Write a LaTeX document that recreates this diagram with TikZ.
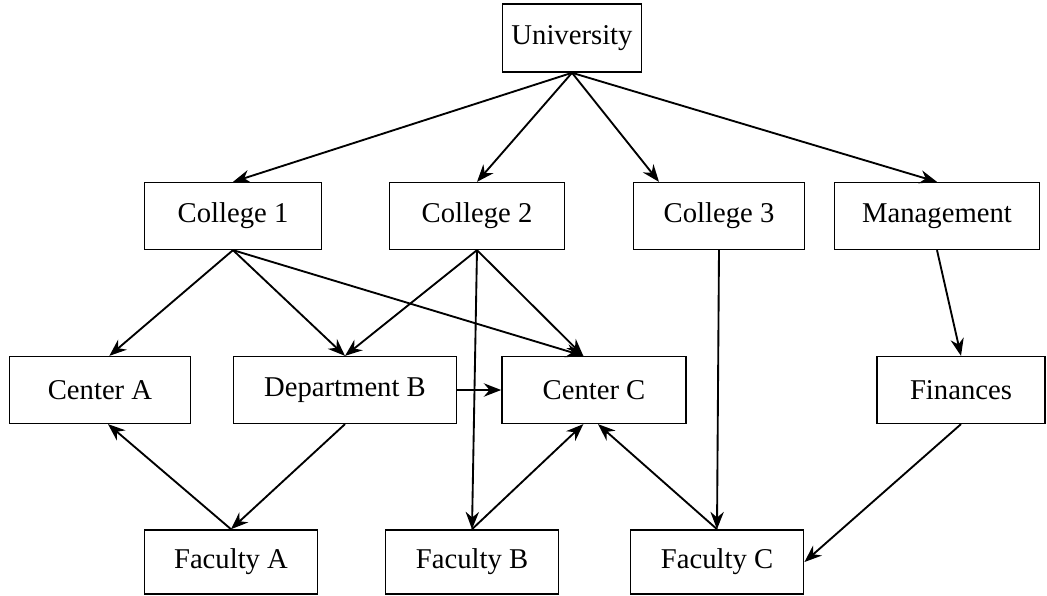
\documentclass[tikz,border=0pt]{standalone}
\usepackage{fontspec}
\setmainfont{Liberation Serif}
\usetikzlibrary{arrows.meta}
\begin{document}
\begin{tikzpicture}[x=0.75pt,y=-0.75pt,
  box/.style={draw,line width=1.2pt,minimum height=50pt,inner sep=0pt,
    font=\fontsize{21.5}{25}\selectfont},
  conn/.style={line width=1.4pt,-{Stealth[length=13pt,width=10pt]}}]
\useasboundingbox (0,0) rectangle (1047,596);
\node[box,minimum width=104pt,minimum height=51pt] (U) at (572,38) {University};
\node[box,minimum width=133pt] (C1) at (233,216) {College 1};
\node[box,minimum width=131pt] (C2) at (477,216) {College 2};
\node[box,minimum width=128pt] (C3) at (719,216) {College 3};
\node[box,minimum width=154pt] (M) at (937,216) {Management};
\node[box,minimum width=136pt] (CA) at (100,390) {Center A};
\node[box,minimum width=167pt] (DB) at (345,390) {Department B};
\node[box,minimum width=138pt] (CC) at (594,390) {Center C};
\node[box,minimum width=126pt] (F) at (961,390) {Finances};
\node[box,minimum width=130pt,minimum height=48pt] (FA) at (231,562) {Faculty A};
\node[box,minimum width=130pt,minimum height=48pt] (FB) at (472,562) {Faculty B};
\node[box,minimum width=130pt,minimum height=48pt] (FC) at (717,562) {Faculty C};
\draw[conn] (U.south) -- (C1.north);
\draw[conn] (U.south) -- (C2.north);
\draw[conn] (U.south) -- ([xshift=-45pt]C3.north);
\draw[conn] (U.south) -- (M.north);
\draw[conn] (C1.south) -- ([xshift=7pt]CA.north);
\draw[conn] (C1.south) -- (DB.north);
\draw[conn] (C1.south) -- ([xshift=-8pt]CC.north);
\draw[conn] (C2.south) -- (DB.north);
\draw[conn] (C2.south) -- ([xshift=-8pt]CC.north);
\draw[conn] (C2.south) -- (FB.north);
\draw[conn] (C3.south) -- (FC.north);
\draw[conn] (M.south) -- (F.north);
\draw[conn] (DB.east) -- (CC.west);
\draw[conn] (DB.south) -- (FA.north);
\draw[conn] (FA.north) -- ([xshift=6pt]CA.south);
\draw[conn] (FB.north) -- ([xshift=-8pt]CC.south);
\draw[conn] (FC.north) -- ([xshift=3pt]CC.south);
\draw[conn] (F.south) -- (FC.east);
\end{tikzpicture}
\end{document}
